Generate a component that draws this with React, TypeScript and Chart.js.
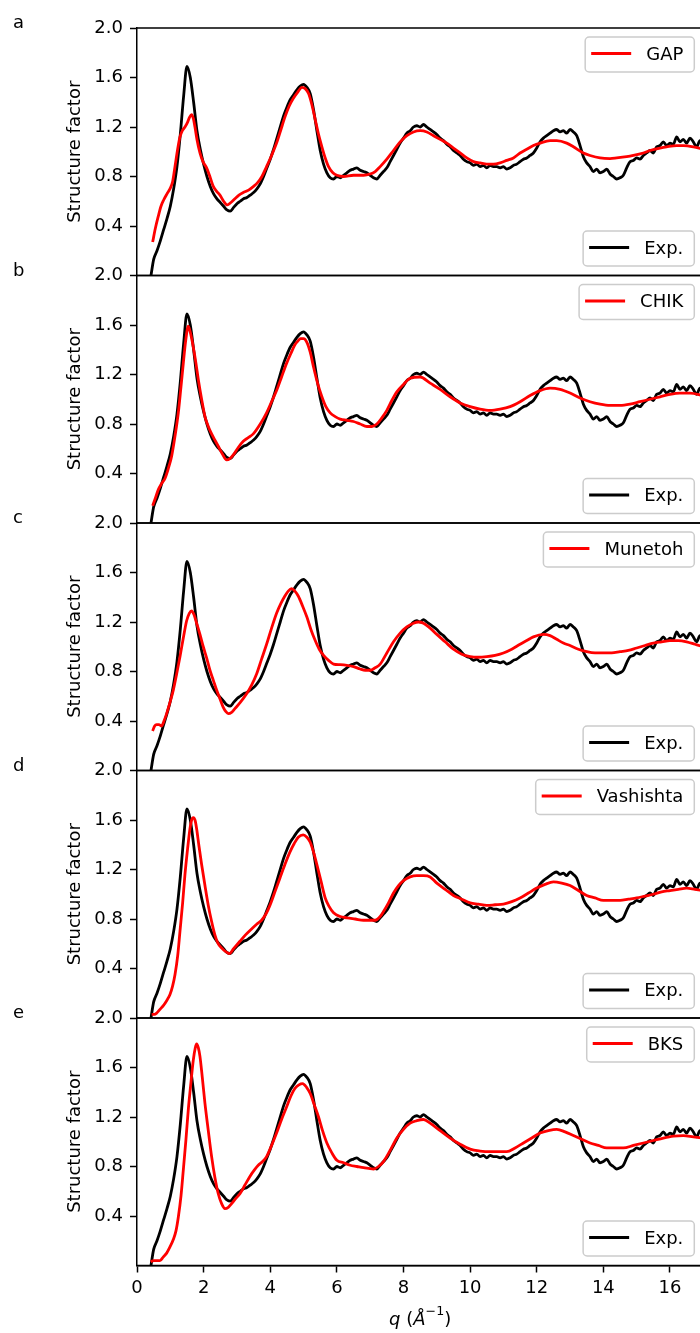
import React, { useEffect, useRef } from "react";
import { Chart, registerables } from "chart.js";

Chart.register(...registerables);

// ---------- text ----------
const FONT_FAMILY = '"DejaVu Sans", "Liberation Sans", Arial, sans-serif';
const PANEL_LETTERS = ["a", "b", "c", "d", "e"];
const MODEL_LABELS = ["GAP", "CHIK", "Munetoh", "Vashishta", "BKS"];
const EXP_LABEL = "Exp.";
const Y_TITLE = "Structure factor";

// ---------- axes ----------
const X_TICKS = [0, 2, 4, 6, 8, 10, 12, 14, 16];
const Y_TICKS = [0.4, 0.8, 1.2, 1.6, 2.0];
const X_MIN = 0;
const X_MAX = 17;
const Y_MIN = 0;
const Y_MAX = 2;

// ---------- data: [q, S(q)] ----------
const EXP: number[][] = [
  [0.42, 0.0], [0.5, 0.13], [0.6, 0.2], [0.7, 0.28], [0.8, 0.37], [0.9, 0.46], [1.0, 0.56],
  [1.1, 0.7], [1.2, 0.88], [1.3, 1.14], [1.4, 1.45], [1.5, 1.69], [1.6, 1.6], [1.7, 1.4],
  [1.8, 1.17], [1.9, 1.02], [2.0, 0.9], [2.1, 0.8], [2.2, 0.72], [2.3, 0.66], [2.4, 0.62],
  [2.5, 0.59], [2.6, 0.56], [2.7, 0.53], [2.8, 0.52], [2.9, 0.55], [3.0, 0.58], [3.1, 0.6],
  [3.2, 0.62], [3.3, 0.63], [3.4, 0.65], [3.5, 0.67], [3.6, 0.7], [3.7, 0.74], [3.8, 0.8],
  [3.9, 0.87], [4.0, 0.94], [4.1, 1.02], [4.2, 1.11], [4.3, 1.2], [4.4, 1.29], [4.5, 1.36],
  [4.6, 1.42], [4.7, 1.46], [4.8, 1.5], [4.9, 1.53], [5.0, 1.545], [5.1, 1.52], [5.2, 1.47],
  [5.3, 1.34], [5.4, 1.17], [5.5, 1.01], [5.6, 0.9], [5.7, 0.83], [5.8, 0.79], [5.9, 0.78],
  [6.0, 0.8], [6.1, 0.79], [6.2, 0.81], [6.3, 0.83], [6.4, 0.85], [6.5, 0.86], [6.6, 0.87],
  [6.7, 0.85], [6.8, 0.84], [6.9, 0.83], [7.0, 0.81], [7.1, 0.79], [7.2, 0.78], [7.3, 0.81],
  [7.4, 0.84], [7.5, 0.87], [7.6, 0.92], [7.7, 0.97], [7.8, 1.02], [7.9, 1.07], [8.0, 1.11],
  [8.1, 1.15], [8.2, 1.17], [8.3, 1.2], [8.4, 1.21], [8.5, 1.2], [8.6, 1.22], [8.7, 1.2],
  [8.8, 1.18], [8.9, 1.16], [9.0, 1.14], [9.1, 1.11], [9.2, 1.09], [9.3, 1.06], [9.4, 1.04],
  [9.5, 1.01], [9.6, 0.99], [9.7, 0.97], [9.8, 0.94], [9.9, 0.92], [10.0, 0.91], [10.1, 0.89],
  [10.2, 0.9], [10.3, 0.88], [10.4, 0.89], [10.5, 0.87], [10.6, 0.89], [10.7, 0.88], [10.8, 0.88],
  [10.9, 0.87], [11.0, 0.88], [11.1, 0.86], [11.2, 0.87], [11.3, 0.89], [11.4, 0.9], [11.5, 0.92],
  [11.6, 0.94], [11.7, 0.95], [11.8, 0.97], [11.9, 0.99], [12.0, 1.03], [12.1, 1.08], [12.2, 1.11],
  [12.3, 1.13], [12.4, 1.15], [12.5, 1.17], [12.6, 1.18], [12.7, 1.16], [12.8, 1.17], [12.9, 1.15],
  [13.0, 1.18], [13.1, 1.16], [13.2, 1.13], [13.3, 1.05], [13.4, 0.96], [13.5, 0.91], [13.6, 0.88],
  [13.7, 0.84], [13.8, 0.86], [13.9, 0.83], [14.0, 0.84], [14.1, 0.86], [14.2, 0.82], [14.3, 0.8],
  [14.4, 0.78], [14.5, 0.79], [14.6, 0.81], [14.7, 0.87], [14.8, 0.92], [14.9, 0.93], [15.0, 0.95],
  [15.1, 0.94], [15.2, 0.97], [15.3, 0.99], [15.4, 1.01], [15.5, 0.99], [15.6, 1.04], [15.7, 1.05],
  [15.8, 1.08], [15.9, 1.05], [16.0, 1.07], [16.1, 1.06], [16.2, 1.12], [16.3, 1.08], [16.4, 1.1],
  [16.5, 1.07], [16.6, 1.11], [16.7, 1.08], [16.8, 1.04], [16.9, 1.09], [17.0, 1.06],
];

const GAP: number[][] = [
  [0.47, 0.27], [0.55, 0.38], [0.64, 0.48], [0.72, 0.56], [0.8, 0.61], [0.9, 0.66], [0.99, 0.7],
  [1.07, 0.76], [1.14, 0.88], [1.22, 1.02], [1.29, 1.12], [1.36, 1.17], [1.44, 1.2], [1.52, 1.24],
  [1.58, 1.28], [1.64, 1.3], [1.69, 1.27], [1.74, 1.2], [1.8, 1.1], [1.89, 0.99], [1.98, 0.92],
  [2.09, 0.87], [2.2, 0.79], [2.29, 0.72], [2.39, 0.68], [2.49, 0.65], [2.6, 0.6], [2.71, 0.57],
  [2.82, 0.59], [2.94, 0.62], [3.06, 0.65], [3.19, 0.67], [3.35, 0.69], [3.5, 0.72], [3.62, 0.75],
  [3.75, 0.8], [3.89, 0.88], [4.04, 0.97], [4.19, 1.07], [4.31, 1.17], [4.44, 1.28], [4.57, 1.37],
  [4.69, 1.43], [4.82, 1.48], [4.95, 1.52], [5.05, 1.51], [5.15, 1.47], [5.25, 1.38], [5.35, 1.26],
  [5.45, 1.14], [5.55, 1.04], [5.65, 0.95], [5.75, 0.88], [5.88, 0.83], [6.0, 0.81], [6.2, 0.8],
  [6.5, 0.81], [6.8, 0.81], [7.0, 0.82], [7.15, 0.84], [7.3, 0.88], [7.5, 0.94], [7.7, 1.01],
  [7.9, 1.08], [8.1, 1.13], [8.3, 1.16], [8.5, 1.17], [8.7, 1.16], [8.9, 1.13], [9.1, 1.1],
  [9.3, 1.07], [9.5, 1.03], [9.7, 0.99], [9.9, 0.95], [10.1, 0.92], [10.3, 0.91], [10.5, 0.9],
  [10.7, 0.9], [10.9, 0.91], [11.1, 0.93], [11.3, 0.95], [11.5, 0.99], [11.7, 1.02], [11.9, 1.05],
  [12.1, 1.07], [12.4, 1.09], [12.6, 1.09], [12.9, 1.07], [13.1, 1.04], [13.4, 0.99], [13.6, 0.97],
  [13.9, 0.95], [14.2, 0.945], [14.4, 0.95], [14.7, 0.96], [14.9, 0.97], [15.2, 0.99], [15.4, 1.01],
  [15.7, 1.03], [15.9, 1.04], [16.2, 1.05], [16.4, 1.05], [16.7, 1.04], [17.0, 1.02],
];

const CHIK: number[][] = [
  [0.47, 0.14], [0.55, 0.2], [0.64, 0.27], [0.74, 0.32], [0.84, 0.36], [0.94, 0.44], [1.04, 0.54],
  [1.14, 0.7], [1.24, 0.89], [1.32, 1.1], [1.39, 1.29], [1.46, 1.47], [1.54, 1.59], [1.61, 1.53],
  [1.69, 1.42], [1.77, 1.29], [1.84, 1.16], [1.94, 1.0], [2.04, 0.86], [2.14, 0.78], [2.24, 0.72],
  [2.34, 0.67], [2.44, 0.62], [2.56, 0.56], [2.69, 0.51], [2.79, 0.52], [2.89, 0.55], [3.04, 0.61],
  [3.19, 0.66], [3.34, 0.69], [3.49, 0.72], [3.7, 0.8], [3.89, 0.89], [4.04, 0.98], [4.19, 1.07],
  [4.34, 1.18], [4.49, 1.29], [4.62, 1.37], [4.74, 1.44], [4.83, 1.47], [4.91, 1.49], [5.0, 1.49],
  [5.1, 1.46], [5.2, 1.38], [5.3, 1.26], [5.42, 1.13], [5.55, 1.02], [5.67, 0.94], [5.8, 0.89],
  [5.95, 0.86], [6.1, 0.84], [6.3, 0.83], [6.5, 0.82], [6.7, 0.8], [6.9, 0.78], [7.05, 0.78],
  [7.2, 0.8], [7.35, 0.85], [7.5, 0.91], [7.65, 0.99], [7.8, 1.06], [8.0, 1.12], [8.2, 1.17],
  [8.5, 1.18], [8.8, 1.13], [9.1, 1.08], [9.4, 1.02], [9.7, 0.97], [10.0, 0.94], [10.3, 0.92],
  [10.6, 0.91], [10.9, 0.92], [11.2, 0.94], [11.5, 0.98], [11.8, 1.03], [12.1, 1.07], [12.4, 1.09],
  [12.7, 1.08], [13.0, 1.05], [13.3, 1.01], [13.6, 0.98], [13.9, 0.96], [14.2, 0.95], [14.5, 0.95],
  [14.8, 0.96], [15.1, 0.98], [15.4, 1.0], [15.7, 1.02], [16.0, 1.04], [16.3, 1.05], [16.6, 1.05],
  [17.0, 1.03],
];

const MUNETOH: number[][] = [
  [0.47, 0.32], [0.53, 0.36], [0.59, 0.37], [0.66, 0.37], [0.74, 0.36], [0.81, 0.4], [0.89, 0.46],
  [0.99, 0.55], [1.09, 0.65], [1.19, 0.78], [1.29, 0.92], [1.39, 1.07], [1.49, 1.21], [1.57, 1.27],
  [1.64, 1.29], [1.71, 1.26], [1.79, 1.19], [1.89, 1.1], [1.99, 1.0], [2.09, 0.91], [2.19, 0.81],
  [2.29, 0.73], [2.39, 0.65], [2.49, 0.58], [2.59, 0.51], [2.67, 0.475], [2.74, 0.46], [2.84, 0.47],
  [2.94, 0.5], [3.1, 0.55], [3.29, 0.62], [3.44, 0.69], [3.59, 0.78], [3.74, 0.9], [3.89, 1.02],
  [4.04, 1.15], [4.19, 1.27], [4.32, 1.35], [4.44, 1.41], [4.54, 1.45], [4.64, 1.47], [4.74, 1.45],
  [4.84, 1.41], [4.97, 1.33], [5.1, 1.24], [5.22, 1.14], [5.35, 1.05], [5.47, 0.98], [5.6, 0.93],
  [5.75, 0.89], [5.9, 0.86], [6.1, 0.855], [6.3, 0.85], [6.5, 0.84], [6.7, 0.82], [6.85, 0.81],
  [7.0, 0.81], [7.15, 0.83], [7.3, 0.86], [7.5, 0.95], [7.7, 1.04], [7.9, 1.11], [8.1, 1.16],
  [8.3, 1.19], [8.45, 1.2], [8.6, 1.19], [8.8, 1.15], [9.0, 1.1], [9.25, 1.04], [9.5, 0.98],
  [9.75, 0.94], [10.0, 0.92], [10.25, 0.915], [10.5, 0.92], [10.75, 0.93], [11.0, 0.95], [11.25, 0.98],
  [11.5, 1.02], [11.7, 1.05], [11.9, 1.08], [12.2, 1.1], [12.4, 1.09], [12.6, 1.06], [12.8, 1.03],
  [13.0, 1.01], [13.25, 0.98], [13.5, 0.96], [13.75, 0.95], [14.0, 0.95], [14.25, 0.95], [14.5, 0.96],
  [14.75, 0.97], [15.0, 0.99], [15.25, 1.01], [15.5, 1.03], [15.75, 1.04], [16.0, 1.05], [16.25, 1.05],
  [16.5, 1.04], [16.75, 1.02], [17.0, 1.0],
];

const VASHISHTA: number[][] = [
  [0.44, 0.03], [0.52, 0.03], [0.59, 0.04], [0.69, 0.07], [0.79, 0.1], [0.89, 0.14], [0.99, 0.19],
  [1.07, 0.26], [1.14, 0.35], [1.22, 0.5], [1.29, 0.7], [1.37, 0.93], [1.44, 1.16], [1.52, 1.37],
  [1.59, 1.53], [1.64, 1.6], [1.69, 1.62], [1.74, 1.6], [1.79, 1.53], [1.86, 1.39], [1.94, 1.24],
  [2.04, 1.07], [2.14, 0.91], [2.24, 0.78], [2.34, 0.67], [2.42, 0.61], [2.49, 0.58], [2.6, 0.55],
  [2.7, 0.53], [2.77, 0.52], [2.9, 0.56], [3.09, 0.62], [3.25, 0.67], [3.44, 0.72], [3.6, 0.76],
  [3.74, 0.79], [3.87, 0.84], [3.99, 0.91], [4.14, 1.02], [4.29, 1.13], [4.44, 1.24], [4.59, 1.34],
  [4.72, 1.41], [4.84, 1.46], [4.99, 1.48], [5.1, 1.46], [5.2, 1.42], [5.3, 1.34], [5.4, 1.24],
  [5.52, 1.11], [5.65, 0.97], [5.77, 0.9], [5.9, 0.85], [6.1, 0.82], [6.3, 0.81], [6.55, 0.8],
  [6.8, 0.79], [7.0, 0.79], [7.15, 0.79], [7.3, 0.82], [7.4, 0.86], [7.55, 0.93], [7.7, 1.01],
  [7.85, 1.07], [8.0, 1.11], [8.2, 1.14], [8.4, 1.15], [8.6, 1.15], [8.8, 1.14], [9.0, 1.09],
  [9.25, 1.04], [9.5, 0.99], [9.75, 0.96], [10.0, 0.93], [10.25, 0.92], [10.5, 0.91], [10.75, 0.915],
  [11.0, 0.92], [11.25, 0.94], [11.5, 0.97], [11.75, 1.01], [12.0, 1.05], [12.25, 1.08], [12.5, 1.1],
  [12.75, 1.09], [13.0, 1.07], [13.25, 1.03], [13.5, 0.99], [13.75, 0.97], [14.0, 0.95], [14.25, 0.95],
  [14.5, 0.95], [14.75, 0.96], [15.0, 0.97], [15.25, 0.985], [15.5, 1.0], [15.75, 1.02], [16.0, 1.03],
  [16.25, 1.04], [16.5, 1.05], [16.75, 1.04], [17.0, 1.03],
];

const BKS: number[][] = [
  [0.41, 0.03], [0.5, 0.04], [0.6, 0.04], [0.69, 0.04], [0.79, 0.07], [0.89, 0.1], [0.99, 0.15],
  [1.09, 0.21], [1.17, 0.28], [1.24, 0.39], [1.32, 0.56], [1.39, 0.77], [1.47, 1.02], [1.54, 1.26],
  [1.62, 1.48], [1.69, 1.66], [1.75, 1.76], [1.79, 1.79], [1.84, 1.76], [1.89, 1.69], [1.96, 1.52],
  [2.04, 1.31], [2.14, 1.09], [2.24, 0.88], [2.34, 0.71], [2.44, 0.58], [2.54, 0.5], [2.64, 0.46],
  [2.74, 0.47], [2.84, 0.5], [2.96, 0.54], [3.09, 0.58], [3.24, 0.65], [3.39, 0.72], [3.52, 0.77],
  [3.64, 0.81], [3.77, 0.84], [3.89, 0.88], [4.04, 0.97], [4.19, 1.07], [4.34, 1.18], [4.49, 1.28],
  [4.62, 1.37], [4.74, 1.43], [4.86, 1.46], [4.97, 1.47], [5.09, 1.44], [5.2, 1.39], [5.32, 1.3],
  [5.45, 1.2], [5.57, 1.09], [5.7, 0.99], [5.85, 0.91], [6.0, 0.85], [6.2, 0.83], [6.4, 0.81],
  [6.6, 0.8], [6.8, 0.79], [6.95, 0.785], [7.1, 0.78], [7.25, 0.8], [7.4, 0.84], [7.6, 0.93],
  [7.8, 1.03], [8.0, 1.1], [8.2, 1.15], [8.4, 1.17], [8.6, 1.18], [8.8, 1.15], [9.1, 1.09],
  [9.4, 1.03], [9.7, 0.98], [10.0, 0.94], [10.3, 0.925], [10.6, 0.92], [10.9, 0.92], [11.1, 0.92],
  [11.35, 0.95], [11.6, 0.99], [11.85, 1.03], [12.1, 1.07], [12.35, 1.09], [12.6, 1.1], [12.85, 1.08],
  [13.1, 1.05], [13.35, 1.02], [13.6, 0.99], [13.85, 0.97], [14.1, 0.95], [14.35, 0.95], [14.6, 0.95],
  [14.9, 0.97], [15.2, 0.99], [15.5, 1.01], [15.8, 1.03], [16.1, 1.045], [16.4, 1.05], [16.7, 1.04],
  [17.0, 1.03],
];

const MODEL_SERIES = [GAP, CHIK, MUNETOH, VASHISHTA, BKS];

// ---------- layout ----------
const PAGE_W = 700;
const PAGE_H = 1333;
const CANVAS_W = 710;
const PLOT_LEFT = 137;
const PLOT_RIGHT = 703.3;
const FIRST_TOP = 28;
const PANEL_H = 247.5;
const FONT_SIZE = 18;
const MODEL_COLOR = "#ff0000";
const EXP_COLOR = "#000000";

function font(size: number, italic = false) {
  return `${italic ? "italic " : ""}${size}px ${FONT_FAMILY}`;
}

function roundRectPath(ctx: CanvasRenderingContext2D, x: number, y: number, w: number, h: number, r: number) {
  ctx.beginPath();
  ctx.moveTo(x + r, y);
  ctx.lineTo(x + w - r, y);
  ctx.arcTo(x + w, y, x + w, y + r, r);
  ctx.lineTo(x + w, y + h - r);
  ctx.arcTo(x + w, y + h, x + w - r, y + h, r);
  ctx.lineTo(x + r, y + h);
  ctx.arcTo(x, y + h, x, y + h - r, r);
  ctx.lineTo(x, y + r);
  ctx.arcTo(x, y, x + r, y, r);
  ctx.closePath();
}

function drawLegend(ctx: CanvasRenderingContext2D, label: string, color: string, right: number, top: number) {
  ctx.font = font(FONT_SIZE);
  const tw = ctx.measureText(label).width;
  const w = 61 + tw + 11;
  const h = 35;
  const left = right - w;
  roundRectPath(ctx, left, top, w, h, 4);
  ctx.fillStyle = "rgba(255,255,255,0.8)";
  ctx.fill();
  ctx.strokeStyle = "#cccccc";
  ctx.lineWidth = 1.5;
  ctx.stroke();
  ctx.beginPath();
  ctx.moveTo(left + 6, top + 16.5);
  ctx.lineTo(left + 46, top + 16.5);
  ctx.strokeStyle = color;
  ctx.lineWidth = 2.8;
  ctx.lineCap = "butt";
  ctx.stroke();
  ctx.fillStyle = "#000";
  ctx.textAlign = "left";
  ctx.textBaseline = "alphabetic";
  ctx.fillText(label, left + 61, top + 22.5);
}

function Panel({ index }: { index: number }) {
  const ref = useRef<HTMLCanvasElement | null>(null);

  useEffect(() => {
    const canvas = ref.current;
    if (!canvas) return;
    const top = FIRST_TOP + index * PANEL_H;
    const bottom = top + PANEL_H;
    const isLast = index === MODEL_SERIES.length - 1;

    const toPoints = (arr: number[][]) => arr.map(([x, y]) => ({ x, y }));

    const decor = {
      id: "decor" + index,
      afterDraw(chart: any) {
        const { ctx, chartArea } = chart;
        const ca = chartArea;
        ctx.save();
        ctx.strokeStyle = "#000";
        ctx.lineWidth = 1.5;
        ctx.lineCap = "butt";
        ctx.beginPath();
        ctx.moveTo(ca.left - 0.75, ca.top);
        ctx.lineTo(ca.right, ca.top);
        ctx.moveTo(ca.left - 0.75, ca.bottom);
        ctx.lineTo(ca.right, ca.bottom);
        ctx.stroke();

        ctx.fillStyle = "#000";
        ctx.font = font(FONT_SIZE);
        ctx.textAlign = "left";
        ctx.textBaseline = "alphabetic";
        ctx.fillText(PANEL_LETTERS[index], 13, ca.top);

        ctx.save();
        ctx.translate(79.5, (ca.top + ca.bottom) / 2);
        ctx.rotate(-Math.PI / 2);
        ctx.textAlign = "center";
        ctx.textBaseline = "alphabetic";
        ctx.fillText(Y_TITLE, 0, 0);
        ctx.restore();

        drawLegend(ctx, MODEL_LABELS[index], MODEL_COLOR, ca.right - 9, ca.top + 9);
        drawLegend(ctx, EXP_LABEL, EXP_COLOR, ca.right - 9, ca.bottom - 9.5 - 35);

        if (isLast) {
          const parts = [
            { t: "q", f: font(FONT_SIZE, true), dy: 0 },
            { t: " (", f: font(FONT_SIZE), dy: 0 },
            { t: "Å", f: font(FONT_SIZE, true), dy: 0 },
            { t: "\u22121", f: font(12.6), dy: -10 },
            { t: ")", f: font(FONT_SIZE), dy: 0 },
          ];
          let total = 0;
          const widths = parts.map((p) => {
            ctx.font = p.f;
            const w = ctx.measureText(p.t).width;
            total += w;
            return w;
          });
          let x = (ca.left + ca.right) / 2 - total / 2;
          const baseY = 1325;
          ctx.textAlign = "left";
          ctx.textBaseline = "alphabetic";
          parts.forEach((p, i) => {
            ctx.font = p.f;
            ctx.fillText(p.t, x, baseY + p.dy);
            x += widths[i];
          });
        }
        ctx.restore();
      },
    };

    const chart = new Chart(canvas, {
      type: "line",
      data: {
        datasets: [
          {
            label: EXP_LABEL,
            data: toPoints(EXP),
            borderColor: EXP_COLOR,
            backgroundColor: EXP_COLOR,
            borderWidth: 2.8,
            pointRadius: 0,
            cubicInterpolationMode: "monotone",
            borderJoinStyle: "round",
            fill: false,
            order: 1,
          },
          {
            label: MODEL_LABELS[index],
            data: toPoints(MODEL_SERIES[index]),
            borderColor: MODEL_COLOR,
            backgroundColor: MODEL_COLOR,
            borderWidth: 2.8,
            pointRadius: 0,
            cubicInterpolationMode: "monotone",
            borderJoinStyle: "round",
            fill: false,
            order: 0,
          },
        ],
      },
      options: {
        responsive: false,
        maintainAspectRatio: false,
        animation: false,
        devicePixelRatio: 1,
        events: [],
        layout: {
          padding: {
            left: 0,
            right: CANVAS_W - PLOT_RIGHT,
            top: top,
            bottom: isLast ? 0 : PAGE_H - bottom,
          },
        },
        plugins: {
          legend: { display: false },
          tooltip: { enabled: false },
          title: { display: false },
        },
        scales: {
          x: {
            type: "linear",
            display: isLast,
            min: X_MIN,
            max: X_MAX,
            afterBuildTicks: (s: any) => {
              s.ticks = X_TICKS.map((v) => ({ value: v }));
            },
            afterFit: (s: any) => {
              if (isLast) s.height = PAGE_H - bottom;
            },
            grid: {
              drawOnChartArea: false,
              drawTicks: true,
              tickLength: 7,
              tickWidth: 1.5,
              tickColor: "#000",
            },
            border: { display: true, color: "#000", width: 1.5 },
            ticks: {
              color: "#000",
              font: { family: FONT_FAMILY, size: FONT_SIZE },
              padding: 5,
              maxRotation: 0,
              autoSkip: false,
              callback: (v: any) => String(v),
            },
          },
          y: {
            type: "linear",
            min: Y_MIN,
            max: Y_MAX,
            afterBuildTicks: (s: any) => {
              s.ticks = Y_TICKS.map((v) => ({ value: v }));
            },
            afterFit: (s: any) => {
              s.width = PLOT_LEFT;
            },
            grid: {
              drawOnChartArea: false,
              drawTicks: true,
              tickLength: 7,
              tickWidth: 1.5,
              tickColor: "#000",
            },
            border: { display: true, color: "#000", width: 1.5 },
            ticks: {
              color: "#000",
              font: { family: FONT_FAMILY, size: FONT_SIZE },
              padding: 7,
              autoSkip: false,
              callback: (v: any) => Number(v).toFixed(1),
            },
          },
        },
      } as any,
      plugins: [decor],
    });

    return () => chart.destroy();
  }, [index]);

  return (
    <canvas
      ref={ref}
      width={CANVAS_W}
      height={PAGE_H}
      style={{ position: "absolute", left: 0, top: 0, width: CANVAS_W, height: PAGE_H, display: "block" }}
    />
  );
}

export default function App() {
  return (
    <div
      style={{
        position: "absolute",
        left: 0,
        top: 0,
        width: PAGE_W,
        height: PAGE_H,
        overflow: "hidden",
        background: "#ffffff",
      }}
    >
      {MODEL_SERIES.map((_, i) => (
        <Panel key={i} index={i} />
      ))}
    </div>
  );
}
